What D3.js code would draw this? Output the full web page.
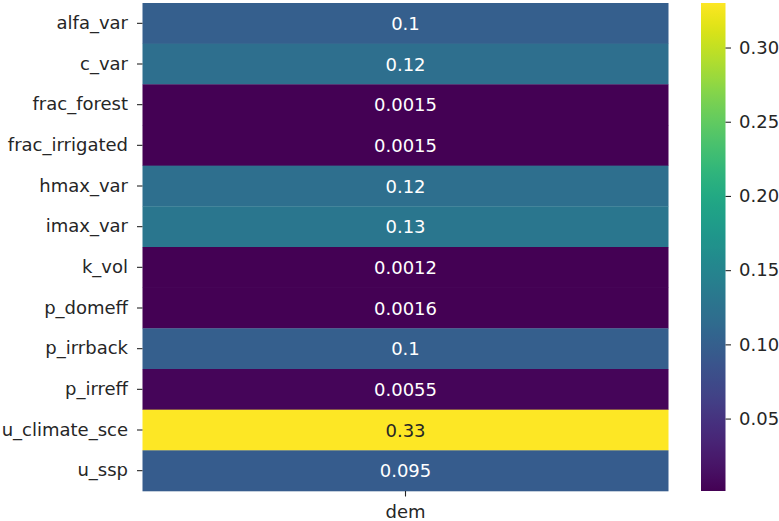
<!DOCTYPE html>
<html>
<head>
<meta charset="utf-8">
<script src="https://cdn.jsdelivr.net/npm/d3@7"></script>
<style>
  html, body { margin: 0; padding: 0; background: #fff; }
  svg { display: block; }
  text { font-family: "DejaVu Sans", sans-serif; }
</style>
</head>
<body>
<svg id="chart" width="779" height="521"></svg>
<script>
// Sensitivity indices of each parameter for the "dem" output
const parameters = ["alfa_var", "c_var", "frac_forest", "frac_irrigated", "hmax_var", "imax_var",
                    "k_vol", "p_domeff", "p_irrback", "p_irreff", "u_climate_sce", "u_ssp"];
const outputs = ["dem"];
const demValues = [0.1, 0.12, 0.0015, 0.0015, 0.12, 0.13, 0.0012, 0.0016, 0.1, 0.0055, 0.33, 0.095];
const demLabels = ["0.1", "0.12", "0.0015", "0.0015", "0.12", "0.13", "0.0012", "0.0016", "0.1", "0.0055", "0.33", "0.095"];
const colorbarTicks = [0.05, 0.10, 0.15, 0.20, 0.25, 0.30];

const svg = d3.select("#chart");
const fontSize = 18;
const ink = "#262626";

const plot = { left: 142.5, right: 668.5, top: 3, bottom: 491 };
const cbar = { left: 701, right: 725.5, top: 3, bottom: 491 };

const cells = parameters.map((p, i) => ({ row: p, col: outputs[0], value: demValues[i], label: demLabels[i] }));

const x = d3.scaleBand().domain(outputs).range([plot.left, plot.right]);
const y = d3.scaleBand().domain(parameters).range([plot.top, plot.bottom]);

const vmin = d3.min(demValues), vmax = d3.max(demValues);
const color = d3.scaleSequential(d3.interpolateViridis).domain([vmin, vmax]);

// heatmap cells
svg.append("g").selectAll("rect").data(cells).join("rect")
  .attr("x", d => x(d.col))
  .attr("y", d => y(d.row))
  .attr("width", x.bandwidth())
  .attr("height", y.bandwidth() + 0.3)
  .attr("fill", d => color(d.value));

// annotations, light or dark depending on cell luminance
function luminance(c) {
  const rgb = d3.rgb(c);
  const lin = v => { v /= 255; return v <= 0.03928 ? v / 12.92 : Math.pow((v + 0.055) / 1.055, 2.4); };
  return 0.2126 * lin(rgb.r) + 0.7152 * lin(rgb.g) + 0.0722 * lin(rgb.b);
}
svg.append("g").selectAll("text").data(cells).join("text")
  .attr("x", d => x(d.col) + x.bandwidth() / 2)
  .attr("y", d => y(d.row) + y.bandwidth() / 2)
  .attr("text-anchor", "middle")
  .attr("dominant-baseline", "central")
  .attr("font-size", fontSize)
  .attr("fill", d => luminance(color(d.value)) > 0.408 ? ink : "#ffffff")
  .text(d => d.label);

// axes
const yAxis = svg.append("g")
  .attr("transform", `translate(${plot.left},0)`)
  .call(d3.axisLeft(y).tickSize(5.5).tickPadding(9));
const xAxis = svg.append("g")
  .attr("transform", `translate(0,${plot.bottom})`)
  .call(d3.axisBottom(x).tickSize(5.5).tickPadding(8.5));
[yAxis, xAxis].forEach(g => {
  g.select(".domain").remove();
  g.selectAll("line").attr("stroke", ink).attr("stroke-width", 1.1);
  g.selectAll("text").attr("font-size", fontSize).attr("fill", ink).attr("font-family", "DejaVu Sans, sans-serif");
});

// colorbar
const defs = svg.append("defs");
const grad = defs.append("linearGradient").attr("id", "cbgrad")
  .attr("x1", 0).attr("y1", 1).attr("x2", 0).attr("y2", 0);
d3.range(0, 1.0001, 0.02).forEach(t => {
  grad.append("stop").attr("offset", t).attr("stop-color", d3.interpolateViridis(t));
});
svg.append("rect")
  .attr("x", cbar.left).attr("y", cbar.top)
  .attr("width", cbar.right - cbar.left).attr("height", cbar.bottom - cbar.top)
  .attr("fill", "url(#cbgrad)");

const cy = d3.scaleLinear().domain([vmin, vmax]).range([cbar.bottom, cbar.top]);
const cAxis = svg.append("g")
  .attr("transform", `translate(${cbar.right},0)`)
  .call(d3.axisRight(cy).tickValues(colorbarTicks).tickFormat(d3.format(".2f")).tickSize(5.5).tickPadding(8));
cAxis.select(".domain").remove();
cAxis.selectAll("line").attr("stroke", ink).attr("stroke-width", 1.1);
cAxis.selectAll("text").attr("font-size", fontSize).attr("fill", ink).attr("font-family", "DejaVu Sans, sans-serif");
</script>
</body>
</html>
